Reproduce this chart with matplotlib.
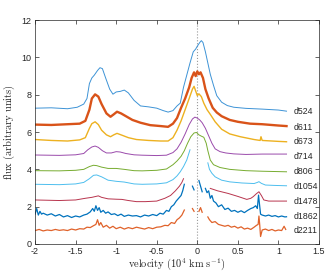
import numpy as np
import matplotlib
matplotlib.use('Agg')
import matplotlib.pyplot as plt

nan = np.nan

# spectra (velocity in 1e4 km/s, offset flux)
v_d524 = [-2.0, -1.8, -1.6, -1.48, -1.40, -1.36, -1.33, -1.30, -1.27, -1.23, -1.20, -1.17, -1.13, -1.08,
          -1.04, -1.00, -0.95, -0.90, -0.85, -0.78, -0.70, -0.60, -0.50, -0.42, -0.36, -0.30, -0.25, -0.21,
          -0.17, -0.13, -0.09, -0.05, -0.02, 0.0, 0.03, 0.05, 0.07, 0.10, 0.13, 0.16, 0.20, 0.24, 0.30, 0.37,
          0.45, 0.6, 0.8, 1.0, 1.1]
f_d524 = [7.28, 7.30, 7.25, 7.33, 7.50, 7.80, 8.60, 8.90, 9.05, 9.30, 9.45, 9.40, 8.90, 8.30,
          8.03, 8.15, 8.18, 8.25, 8.10, 7.70, 7.40, 7.35, 7.28, 7.15, 7.07, 7.15, 7.40, 7.55,
          8.40, 9.05, 9.70, 10.30, 10.45, 10.60, 10.80, 10.90, 10.80, 10.30, 9.70, 9.10, 8.50, 7.95, 7.60, 7.42,
          7.33, 7.27, 7.23, 7.18, 7.12]

v_d611 = [-2.0, -1.8, -1.6, -1.45, -1.38, -1.33, -1.30, -1.26, -1.22, -1.18, -1.12, -1.07, -1.03, -0.99,
          -0.94, -0.88, -0.80, -0.70, -0.58, -0.45, -0.36, -0.30, -0.25, -0.20, -0.15, -0.10, -0.07, -0.04,
          -0.02, 0.0, 0.02, 0.04, 0.07, 0.10, 0.14, 0.19, 0.24, 0.30, 0.40, 0.50, 0.65, 0.8, 1.0, 1.1]
f_d611 = [6.40, 6.38, 6.42, 6.45, 6.60, 7.20, 7.80, 8.02, 7.90, 7.50, 7.00, 6.82, 6.95, 7.09,
          7.00, 6.85, 6.65, 6.50, 6.37, 6.32, 6.28, 6.45, 6.75, 7.30, 7.80, 8.40, 8.90, 9.20,
          9.00, 9.25, 9.10, 9.20, 8.90, 8.30, 7.80, 7.30, 7.05, 6.85, 6.65, 6.55, 6.45, 6.42, 6.35, 6.32]

v_d673 = [-2.0, -1.8, -1.6, -1.45, -1.38, -1.33, -1.30, -1.26, -1.22, -1.18, -1.12, -1.07, -1.03, -0.99,
          -0.94, -0.85, -0.75, -0.6, -0.45, -0.36, -0.30, -0.25, -0.20, -0.15, -0.10, -0.06, -0.04, -0.02,
          0.0, 0.02, 0.05, 0.08, 0.12, 0.16, 0.22, 0.3, 0.4, 0.53, 0.7, 0.775, 0.785, 0.80, 1.0, 1.1]
f_d673 = [5.60, 5.55, 5.52, 5.58, 5.70, 6.20, 6.45, 6.55, 6.40, 6.10, 5.85, 5.75, 5.85, 5.93,
          5.85, 5.70, 5.60, 5.55, 5.52, 5.52, 5.70, 6.10, 6.60, 7.20, 7.80, 8.30, 8.45, 8.20,
          7.95, 8.05, 7.90, 7.55, 7.20, 6.95, 6.55, 6.15, 5.90, 5.75, 5.60, 5.55, 5.75, 5.55, 5.50, 5.48]

v_d714 = [-2.0, -1.7, -1.5, -1.40, -1.35, -1.30, -1.26, -1.22, -1.17, -1.12, -1.06, -1.00, -0.95, -0.88,
          -0.78, -0.68, -0.5, -0.38, -0.30, -0.25, -0.20, -0.15, -0.10, -0.06, -0.03, 0.0, 0.03, 0.06, 0.10,
          0.14, 0.18, 0.22, 0.28, 0.35, 0.45, 0.6, 0.8, 1.0, 1.1]
f_d714 = [4.77, 4.75, 4.78, 4.85, 5.05, 5.20, 5.25, 5.18, 5.00, 4.88, 4.88, 4.95, 4.93, 4.85,
          4.78, 4.76, 4.74, 4.76, 4.90, 5.10, 5.45, 5.90, 6.40, 6.70, 6.80, 6.75, 6.65, 6.50, 6.20,
          5.80, 5.40, 5.10, 4.95, 4.88, 4.83, 4.80, 4.82, 4.82, 4.82]

v_d806 = [-2.0, -1.7, -1.5, -1.40, -1.33, -1.28, -1.24, -1.18, -1.10, -1.00, -0.90, -0.78, -0.68, -0.5,
          -0.38, -0.30, -0.25, -0.20, -0.16, -0.12, -0.08, -0.04, -0.01, 0.02, 0.05, 0.08, 0.11, 0.13, 0.16,
          0.20, 0.28, 0.4, 0.6, 0.8, 1.0, 1.1]
f_d806 = [3.93, 3.92, 3.95, 4.00, 4.15, 4.22, 4.20, 4.12, 4.05, 4.05, 4.00, 3.93, 3.92, 3.95,
          4.02, 4.25, 4.45, 4.70, 5.00, 5.40, 5.75, 5.95, 5.98, 5.85, 5.78, 5.72, 5.40, 5.00, 4.50,
          4.25, 4.10, 4.00, 3.93, 3.90, 3.88, 3.87]

v_d1054 = [-2.0, -1.7, -1.5, -1.40, -1.33, -1.28, -1.24, -1.18, -1.10, -1.00, -0.90, -0.78, -0.68, -0.5,
           -0.38, -0.30, -0.25, -0.21, -0.17, -0.13, -0.09, nan, 0.13, 0.15, 0.18, 0.22, 0.30, 0.4, 0.55,
           0.7, 0.74, 0.76, 0.79, 0.84, 0.95, 1.1]
f_d1054 = [3.20, 3.18, 3.22, 3.30, 3.50, 3.68, 3.70, 3.60, 3.42, 3.36, 3.32, 3.22, 3.20, 3.22,
           3.28, 3.45, 3.65, 3.87, 4.15, 4.50, 5.05, nan, 4.35, 4.00, 3.79, 3.60, 3.42, 3.33, 3.27,
           3.24, 3.30, 3.34, 3.25, 3.16, 3.14, 3.12]

v_d1478 = [-2.0, -1.7, -1.5, -1.38, -1.30, -1.25, -1.22, -1.18, -1.10, -1.00, -0.93, -0.85, -0.75, -0.64,
           -0.5, -0.40, -0.33, -0.27, -0.22, -0.19, -0.17, nan, 0.16, 0.25, 0.38, 0.50, 0.61, 0.66, 0.69,
           0.73, 0.76, 0.79, 0.82, 0.88, 1.0, 1.1]
f_d1478 = [2.36, 2.33, 2.36, 2.45, 2.50, 2.55, 2.58, 2.50, 2.42, 2.40, 2.39, 2.33, 2.27, 2.27,
           2.30, 2.45, 2.60, 2.85, 3.10, 3.30, 3.50, nan, 2.98, 2.85, 2.71, 2.55, 2.39, 2.45, 2.54,
           2.70, 2.80, 2.60, 2.36, 2.30, 2.30, 2.30]

v_d1862 = [-2.0, -1.98, -1.96, -1.94, -1.92, -1.9, -1.85, -1.8, -1.75, -1.7, -1.65, -1.6, -1.55, -1.5,
           -1.45, -1.4, -1.36, -1.32, -1.29, -1.27, -1.25, -1.23, -1.21, -1.19, -1.16, -1.13, -1.1, -1.06,
           -1.02, -0.98, -0.94, -0.9, -0.85, -0.8, -0.75, -0.7, -0.65, -0.6, -0.55, -0.5, -0.46, -0.42,
           -0.38, -0.35, -0.32, -0.29, -0.26, -0.23, -0.2, -0.18, -0.16, nan, -0.06, -0.04, nan, 0.02,
           0.04, 0.06, nan, 0.10, 0.12, 0.14, 0.16, 0.18, 0.2, 0.23, 0.26, 0.3, 0.34, 0.38, 0.42, 0.46,
           0.5, 0.54, 0.58, 0.62, 0.66, 0.69, 0.72, 0.74, 0.755, 0.765, 0.78, 0.8, 0.84, 0.88, 0.92, 0.96,
           1.0, 1.04, 1.08, 1.1]
f_d1862 = [1.60, 1.90, 1.55, 1.75, 1.60, 1.65, 1.55, 1.62, 1.50, 1.58, 1.45, 1.52, 1.42, 1.50,
           1.45, 1.55, 1.60, 1.72, 1.90, 1.75, 2.05, 1.80, 1.95, 1.70, 1.80, 1.65, 1.72, 1.58,
           1.62, 1.52, 1.60, 1.48, 1.55, 1.50, 1.52, 1.45, 1.55, 1.50, 1.58, 1.52, 1.65, 1.60,
           1.80, 1.75, 2.00, 2.10, 2.30, 2.45, 2.60, 2.85, 3.20, nan, 3.10, 2.90, nan, 3.40,
           3.10, 2.80, nan, 2.98, 2.75, 2.85, 2.45, 2.60, 2.30, 2.20, 2.00, 2.10, 1.85, 1.92, 1.75, 1.80,
           1.70, 1.78, 1.68, 1.80, 1.90, 1.95, 2.05, 1.90, 2.62, 2.20, 1.60, 1.55, 1.50, 1.55, 1.48, 1.52,
           1.45, 1.50, 1.45, 1.46]

v_d2211 = [-2.0, -1.95, -1.9, -1.85, -1.8, -1.75, -1.7, -1.65, -1.6, -1.55, -1.5, -1.45, -1.4, -1.36,
           -1.32, -1.28, -1.25, -1.23, -1.21, -1.19, -1.16, -1.12, -1.08, -1.04, -1.0, -0.95, -0.9, -0.85,
           -0.8, -0.75, -0.7, -0.65, -0.6, -0.55, -0.5, -0.45, -0.4, -0.36, -0.32, -0.28, -0.25, -0.22,
           -0.19, -0.16, nan, -0.06, -0.04, nan, 0.02, 0.04, 0.06, nan, 0.13, 0.15, 0.18, 0.22, 0.26, 0.3,
           0.34, 0.38, 0.42, 0.46, 0.5, 0.54, 0.58, 0.62, 0.66, 0.70, 0.73, 0.75, 0.76, 0.77, 0.78, 0.8,
           0.84, 0.88, 0.92, 0.96, 1.0, 1.04, 1.07, 1.09]
f_d2211 = [0.72, 0.78, 0.70, 0.75, 0.72, 0.78, 0.73, 0.76, 0.72, 0.80, 0.75, 0.82, 0.80, 0.90,
           0.88, 0.98, 1.05, 1.30, 1.00, 1.15, 0.90, 1.00, 0.85, 0.95, 0.82, 0.90, 0.80, 0.88,
           0.82, 0.90, 0.85, 0.80, 0.88, 0.82, 0.90, 0.92, 1.00, 0.98, 1.15, 1.10, 1.30, 1.40,
           1.55, 1.82, nan, 1.90, 1.75, nan, 1.75, 1.95, 1.70, nan, 1.45, 1.30, 1.15, 1.20, 1.05, 1.00,
           0.95, 1.00, 0.90, 0.95, 0.85, 0.92, 0.80, 0.85, 0.78, 0.90, 1.00, 1.05, 1.50, 1.00, 0.40, 0.75,
           0.80, 0.72, 0.78, 0.70, 0.75, 0.72, 0.95, 0.78]

names = ['d524', 'd611', 'd673', 'd714', 'd806', 'd1054', 'd1478', 'd1862', 'd2211']
label_y = [7.09, 6.27, 5.50, 4.68, 3.87, 3.07, 2.27, 1.46, 0.70]

series = [(v_d524, f_d524), (v_d611, f_d611), (v_d673, f_d673), (v_d714, f_d714), (v_d806, f_d806),
          (v_d1054, f_d1054), (v_d1478, f_d1478), (v_d1862, f_d1862), (v_d2211, f_d2211)]
colors = ['#3d93d6', '#D95319', '#EDB120', '#9a4aab', '#77AC30', '#4DBEEE', '#b8344d', '#0072BD', '#e0622a']
widths = [0.7, 1.7, 1.0, 0.7, 0.7, 0.7, 0.7, 0.9, 0.9]

plt.rcParams['mathtext.fontset'] = 'cm'
plt.rcParams['font.family'] = ['Liberation Sans', 'DejaVu Sans']
fig = plt.figure(figsize=(3.34, 2.72), dpi=100)
ax = fig.add_axes([0.105, 0.103, 0.85, 0.823])

ax.axvline(0, color='#999999', ls=':', lw=0.8, zorder=0)
for (v, f), c, w in zip(series, colors, widths):
    ax.plot(v, f, color=c, lw=w)

for n, y in zip(names, label_y):
    ax.text(1.19, y, n, fontsize=6.3, color='#262626', va='center', ha='left')

ax.set_xlim(-2, 1.5)
ax.set_ylim(0, 12)
ax.set_xticks([-2, -1.5, -1, -0.5, 0, 0.5, 1, 1.5])
ax.set_xticklabels(['-2', '-1.5', '-1', '-0.5', '0', '0.5', '1', '1.5'])
ax.set_yticks([0, 2, 4, 6, 8, 10, 12])
ax.tick_params(direction='in', top=True, right=True, length=3, width=0.5,
               labelsize=6.5, colors='#262626', pad=2.5)
for s in ax.spines.values():
    s.set_linewidth(0.5)
    s.set_color('#262626')

ax.set_xlabel(r'$\mathrm{velocity\ (10^4\ km\ s^{-1})}$', fontsize=7.5, labelpad=0, color='#262626')
ax.set_ylabel(r'$\mathrm{flux\ (arbitrary\ units)}$', fontsize=7.5, labelpad=3, color='#262626')

fig.savefig('out.png', dpi=100)
